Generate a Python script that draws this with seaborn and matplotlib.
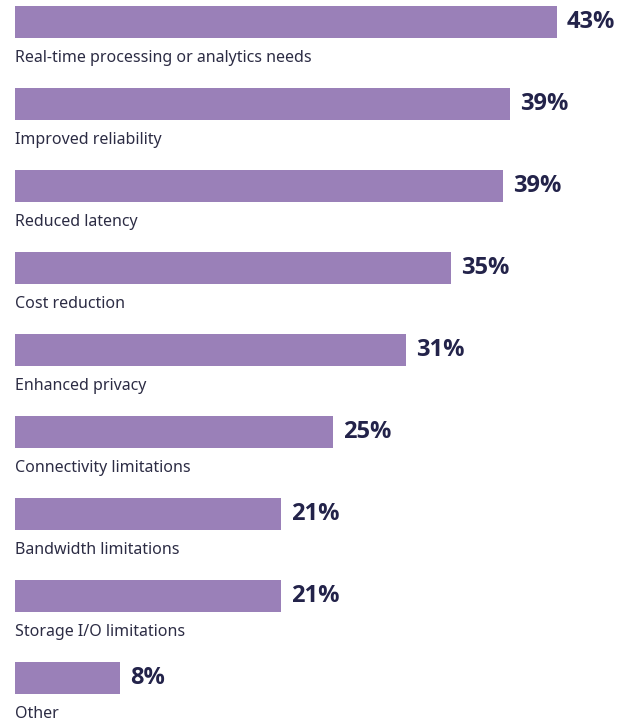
import pandas as pd
import seaborn as sns
import numpy as np
import matplotlib.pyplot as plt

reasons = ['Real-time processing or analytics needs', 'Improved reliability', 'Reduced latency',
           'Cost reduction', 'Enhanced privacy', 'Connectivity limitations',
           'Bandwidth limitations', 'Storage I/O limitations', 'Other']
shares = [43.0, 39.3, 38.7, 34.6, 31.0, 25.2, 21.1, 21.1, 8.3]
share_labels = ['43%', '39%', '39%', '35%', '31%', '25%', '21%', '21%', '8%']

df = pd.DataFrame({'reason': reasons, 'share': shares})

sns.set_theme(style='white')
plt.rcParams['font.family'] = ['Noto Sans', 'DejaVu Sans']

bar_color = '#9a80b8'
text_color = '#23234a'

fig = plt.figure(figsize=(6.3, 7.28), dpi=100)
ax = fig.add_axes([0, 0, 1, 1])
sns.barplot(data=df, x='share', y='reason', orient='h', color=bar_color,
            saturation=1, width=0.39, linewidth=0, ax=ax)

# value labels to the right, category names under each bar
for i, (v, lab, name) in enumerate(zip(shares, share_labels, reasons)):
    ax.text(v + 0.8, i, lab, ha='left', va='center', fontsize=17,
            fontweight='bold', family=['Open Sans', 'Lato', 'DejaVu Sans'],
            color=text_color)
    ax.text(0, i + 0.445, name, ha='left', va='center', fontsize=11.5,
            color='#2c2c44')

ax.set_xlim(-15 / 12.6, (630 - 15) / 12.6)
ax.set_ylim((728 - 22) / 82, -22 / 82)
ax.set_axis_off()

fig.savefig('out.png', dpi=100, facecolor='white')
